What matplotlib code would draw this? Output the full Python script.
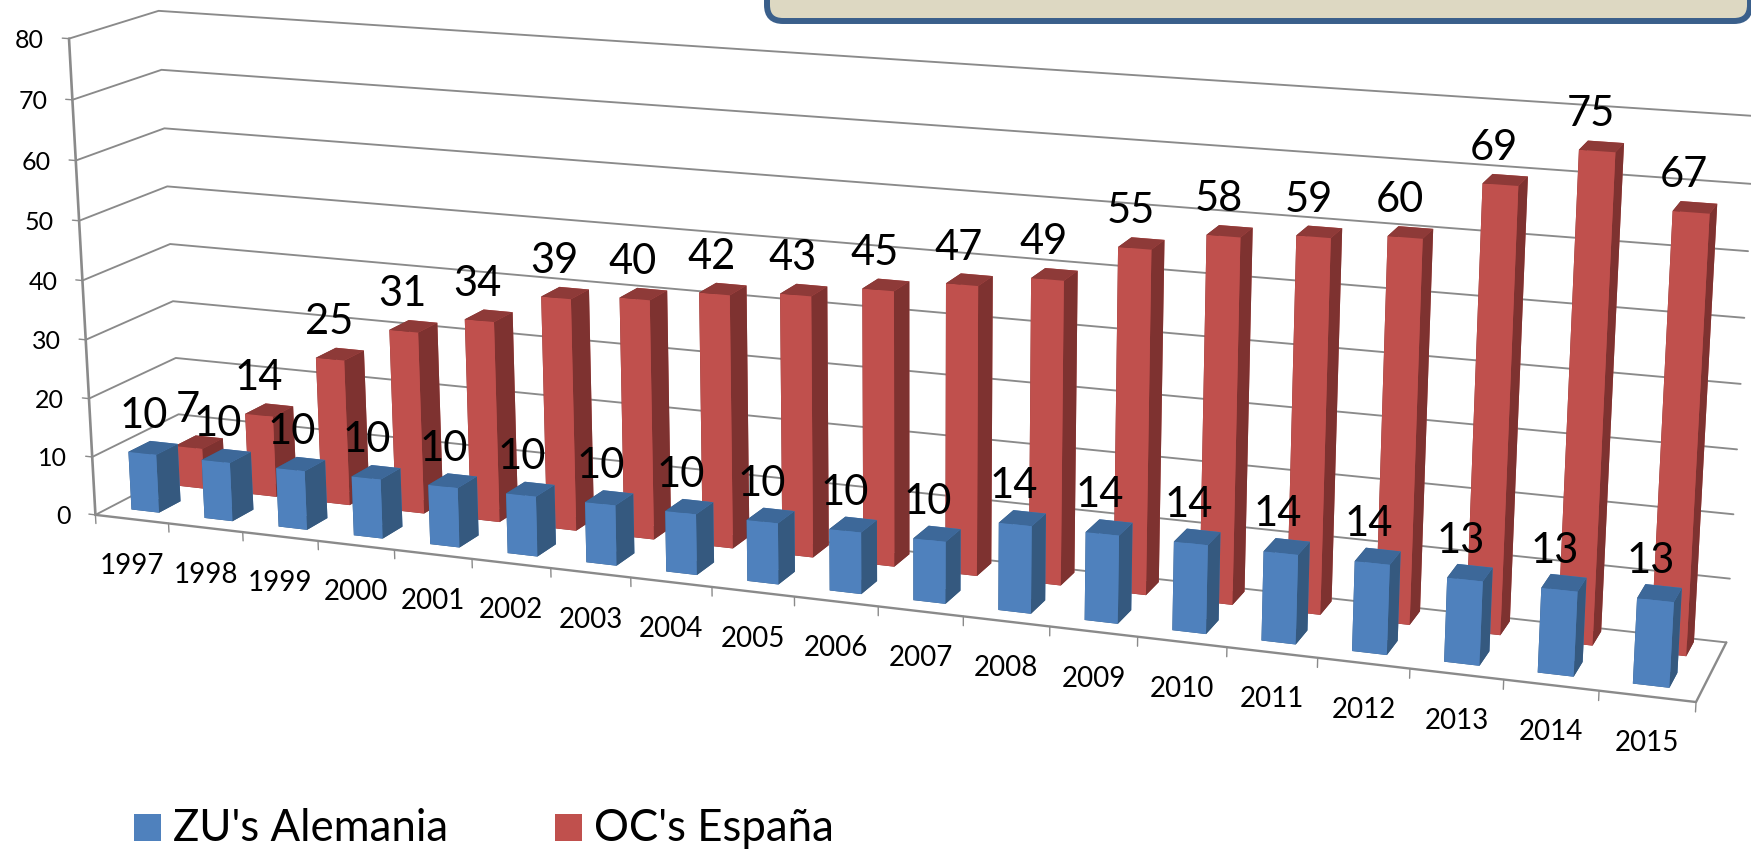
import numpy as np
import matplotlib
matplotlib.use("Agg")
import matplotlib.pyplot as plt
from matplotlib.patches import Rectangle, FancyBboxPatch
from matplotlib.transforms import IdentityTransform
from mpl_toolkits.mplot3d import Axes3D, proj3d  # noqa
from mpl_toolkits.mplot3d.art3d import Line3DCollection

W, H = 1751, 850
years = list(range(1997, 2016))
zu_alemania = [10, 10, 10, 10, 10, 10, 10, 10, 10, 10, 10, 14, 14, 14, 14, 14, 13, 13, 13]
oc_espana = [7, 14, 25, 31, 34, 39, 40, 42, 43, 45, 47, 49, 55, 58, 59, 60, 69, 75, 67]
z_ticks = list(range(0, 90, 10))

BLUE = ("#3D6899", "#4F81BD", "#35597F")   # top, front, side
RED = ("#8E3A38", "#C0504D", "#7E3230")
GRID = "#8A8A8A"

# Camera calibration: chart-box points (category, depth, value) and where they sit on the canvas
cal_world = np.array([
    (0, 0, 0), (0, 0, 10), (0, 0, 20), (0, 0, 30), (0, 0, 40), (0, 0, 50), (0, 0, 60), (0, 0, 70), (0, 0, 80),
    (0, 1, 10), (0, 1, 20), (0, 1, 30), (0, 1, 40), (0, 1, 50), (0, 1, 60), (0, 1, 70), (0, 1, 80),
    (19, 1, 0), (19, 1, 10), (19, 1, 20), (19, 1, 30), (19, 1, 40), (19, 1, 50), (19, 1, 60),
    (19, 0, 0), (1, 0, 0), (2, 0, 0), (16, 0, 0), (17, 0, 0), (18, 0, 0),
    (18.29, 0.70, 67), (17.29, 0.70, 75), (16.29, 0.70, 69), (3.29, 0.70, 31), (2.29, 0.70, 25),
    (18.29, 0.17, 13), (18.29, 0.17, 0), (0.29, 0.17, 10), (0.29, 0.17, 0)], float)
cal_pix = np.array([
    (96, 515), (93, 457), (89, 398), (86, 340), (83, 280), (79, 220), (76, 160), (72, 99), (68, 38),
    (177, 415), (177, 357), (173, 302), (171, 244), (168, 186), (164, 128), (162, 69), (160, 11),
    (1726, 642), (1730, 577), (1733, 513), (1737, 449), (1741, 383), (1746, 317), (1749, 252),
    (1696, 702), (169, 524), (243, 532), (1410, 668), (1504, 680), (1599, 691),
    (1672, 212), (1578, 152), (1482, 184), (387, 332), (313, 359),
    (1637, 598), (1633, 684), (128, 452), (132, 510)], float)


def fit_camera(world, pix):
    S = np.diag([1 / 19, 1, 1 / 80, 1.0])
    wn = np.c_[world, np.ones(len(world))] @ S
    pn = pix / 1000.0
    rows = []
    for (X, (u, v)) in zip(wn, pn):
        rows.append(np.r_[X, np.zeros(4), -u * X])
        rows.append(np.r_[np.zeros(4), X, -v * X])
    p = np.linalg.svd(np.array(rows))[2][-1].reshape(3, 4)
    P = np.diag([1000.0, 1000.0, 1.0]) @ p @ S
    if P[2] @ np.array([0, 0, 0, 1.0]) < 0:
        P = -P
    return P


P = fit_camera(cal_world, cal_pix)
w0 = P[2, 3]
M = np.array([P[0], H * P[2] - P[1], P[2] - np.array([0, 0, 0, w0]), P[2]])

fig = plt.figure(figsize=(W / 100, H / 100), dpi=100, facecolor="white")
ax = fig.add_axes([0, 0, 1, 1], projection="3d", computed_zorder=False)
ax.set_axis_off()
ax.transData = IdentityTransform()
ax.get_proj = lambda: M
ax.apply_aspect = lambda position=None: None

N = len(years)
idt = IdentityTransform()


def lines(segments, lw, z=2):
    lc = Line3DCollection(segments, colors=GRID, linewidths=lw, zorder=z, capstyle="round", joinstyle="round")
    ax.add_collection3d(lc, autolim=False)
    lc.set_transform(idt)


grid_segments = []
for t in z_ticks:
    grid_segments.append([(0, 0, t), (0, 1, t), (N, 1, t)])
lines(grid_segments, 1.35)
lines([[(-0.09, 0, t), (0, 0, t)] for t in z_ticks], 1.0)
lines([[(0, 0, 0), (0, 0, 80)]], 1.9)
lines([[(0, 0, 0), (N, 0, 0), (N, 1, 0)]], 1.7)
lines([[(i, 0, 0), (i, 0, -1.5)] for i in range(N + 1)], 1.0)

BAR_X, BAR_W = 0.29, 0.38
BLUE_Y, RED_Y, BAR_D = 0.17, 0.70, 0.25


def bars(vals, y0, cols, base_z):
    for i, v in enumerate(vals):
        top, front, side = cols
        # face order: bottom, top, front, back, left, right
        ax.bar3d(i + BAR_X, y0, 0, BAR_W, BAR_D, v, shade=False, zsort="average",
                 color=[side, top, front, front, side, side], linewidth=0,
                 zorder=base_z + i, transform=idt)


bars(oc_espana, RED_Y, RED, 10)
bars(zu_alemania, BLUE_Y, BLUE, 50)

FONT = ["Lato", "DejaVu Sans"]


def label(x, y, z, s, dx, dy, size, ha="center"):
    px, py, _ = proj3d.proj_transform(x, y, z, M)
    ax.text2D(px + dx, py + dy, s, ha=ha, va="center", fontsize=size, family=FONT, color="black",
              transform=idt, zorder=200)


for i, (a, b) in enumerate(zip(zu_alemania, oc_espana)):
    label(i + BAR_X + BAR_W / 2, BLUE_Y + BAR_D / 2, a, str(a), -9, 32, 30)
    label(i + BAR_X + BAR_W / 2, RED_Y + BAR_D / 2, b, str(b), -11, 32, 30)

for i, yr in enumerate(years):
    label(i + 0.5, 0, 0, str(yr), 0, -47, 20)
for t in z_ticks:
    label(0, 0, t, str(t), -25, -1.5, 18, ha="right")

# Legend
legend_names = ["ZU's Alemania", "OC's España"]
legend_cols = [BLUE[1], RED[1]]
for name, col, sx, tx in zip(legend_names, legend_cols, [134, 555], [173, 594]):
    fig.add_artist(Rectangle((sx, H - 841), 27, 27, facecolor=col, edgecolor="none", transform=idt))
    fig.text(tx, H - 841, name, fontsize=31.5, family=FONT, color="black", ha="left", va="baseline", transform=idt)

# Cut-off callout box at the top
fig.add_artist(FancyBboxPatch((767, H - 21), 1750 - 767, 120, boxstyle="round,pad=0,rounding_size=16",
                              facecolor="#DDD8C2", edgecolor="#3A5F8B", linewidth=4.3, transform=idt))

fig.savefig("out.png", dpi=100, facecolor="white")
